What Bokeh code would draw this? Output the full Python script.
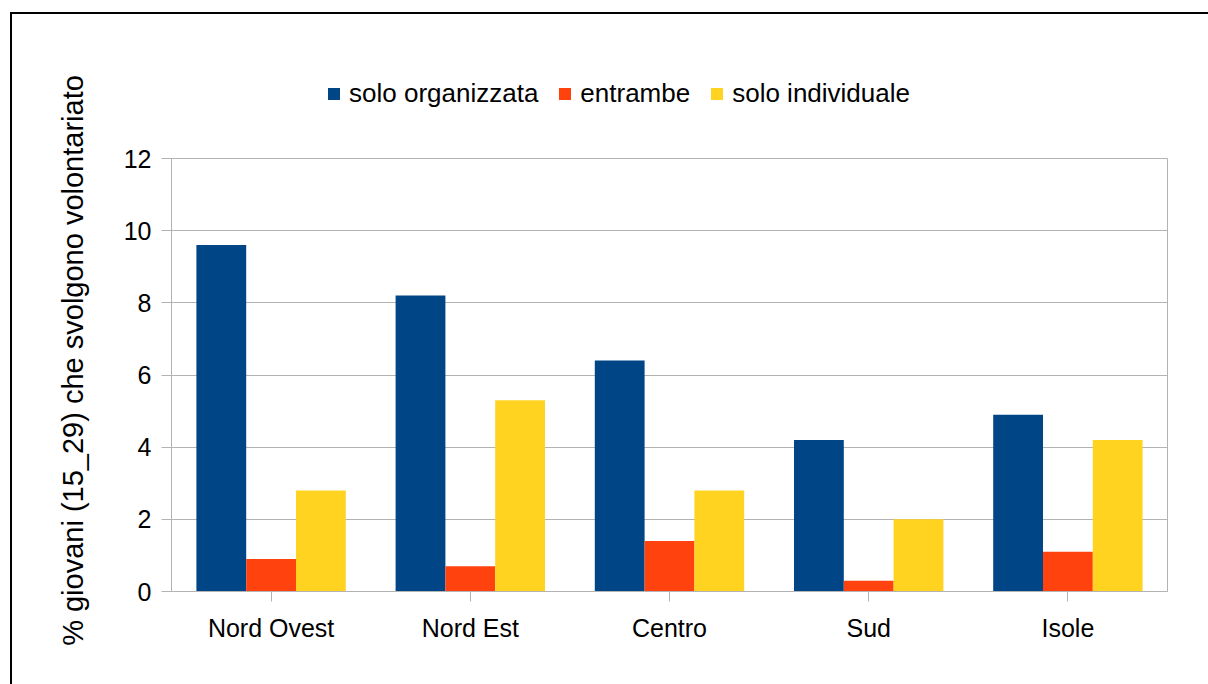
import math
from bokeh.plotting import figure
from bokeh.models import ColumnDataSource, FactorRange, Legend, LegendItem, Label
from bokeh.layouts import column, row
from bokeh.transform import dodge
from bokeh.embed import file_html
from bokeh.resources import INLINE

regions = ["Nord Ovest", "Nord Est", "Centro", "Sud", "Isole"]
solo_organizzata = [9.6, 8.2, 6.4, 4.2, 4.9]
entrambe = [0.9, 0.7, 1.4, 0.3, 1.1]
solo_individuale = [2.8, 5.3, 2.8, 2.0, 4.2]
series_names = ["solo organizzata", "entrambe", "solo individuale"]
colors = ["#004586", "#ff420e", "#ffd320"]
y_ticks = [0, 2, 4, 6, 8, 10, 12]
y_label = "% giovani (15_29) che svolgono volontariato"

FONT = "Liberation Sans"
FS = "25px"
TITLE_W = 100
TOTAL_W = 1196
TOTAL_H = 670
LEG_H = 129

src = ColumnDataSource(dict(x=regions, a=solo_organizzata, b=entrambe, c=solo_individuale))

# ---- left strip with the rotated y-axis title ----
side = figure(width=TITLE_W, height=TOTAL_H, x_range=(0, TITLE_W), y_range=(0, TOTAL_H),
              output_backend="svg", toolbar_location=None, min_border=0)
side.axis.visible = False
side.grid.visible = False
side.outline_line_color = None
side.background_fill_color = "white"
side.border_fill_color = "white"
side.add_layout(Label(x=60, y=324, text=y_label, angle=math.pi / 2,
                      text_align="center", text_baseline="middle",
                      text_font=FONT, text_font_size="29px", text_color="#000000"))

# ---- legend strip (top area) ----
top = figure(width=TOTAL_W - TITLE_W, height=LEG_H, x_range=(0, 1), y_range=(0, 1),
             output_backend="svg", toolbar_location=None, min_border=0)
top.axis.visible = False
top.grid.visible = False
top.outline_line_color = None
top.background_fill_color = "white"
top.border_fill_color = "white"
leg_renderers = [top.vbar(x=[0], top=[0], width=0.0, fill_color=c, line_color=None) for c in colors]
legend = Legend(items=[LegendItem(label=n, renderers=[r]) for n, r in zip(series_names, leg_renderers)],
                orientation="horizontal", location=(155, 34),
                label_text_font=FONT, label_text_font_size="26px", label_text_color="#000000",
                glyph_width=15, glyph_height=15, label_standoff=8, spacing=19,
                padding=0, margin=0, border_line_color=None, background_fill_alpha=0)
top.add_layout(legend, "center")

# ---- main chart ----
p = figure(x_range=FactorRange(*regions, range_padding=0), y_range=(0, 12),
           width=TOTAL_W - TITLE_W, height=TOTAL_H - LEG_H, output_backend="svg", toolbar_location=None,
           min_border_left=59, min_border_right=41, min_border_top=15, min_border_bottom=93)

bw = 0.25
for i, (col, c) in enumerate(zip(["a", "b", "c"], colors)):
    p.vbar(x=dodge("x", (i - 1) * bw, range=p.x_range), top=col, width=bw,
           source=src, fill_color=c, line_color=None)

p.background_fill_color = "white"
p.border_fill_color = "white"
p.outline_line_color = "#b3b3b3"
p.outline_line_width = 1

p.xgrid.grid_line_color = None
p.ygrid.grid_line_color = "#b3b3b3"
p.ygrid.ticker = y_ticks
p.yaxis.ticker = y_ticks

for ax in (p.xaxis[0], p.yaxis[0]):
    ax.axis_line_color = "#b3b3b3"
    ax.major_tick_line_color = "#b3b3b3"
    ax.minor_tick_line_color = None
    ax.major_tick_in = 0
    ax.major_tick_out = 10
    ax.major_label_text_font = FONT
    ax.major_label_text_font_size = FS
    ax.major_label_text_color = "#000000"

p.yaxis.major_label_standoff = 10
p.xaxis.major_label_standoff = 12
p.xaxis.group_text_font_size = "0px"

lay = row(side, column(top, p, spacing=0), spacing=0)
lay.styles = {"border-top": "2px solid #000", "border-left": "2px solid #000",
              "border-right": "none", "border-bottom": "none",
              "margin-top": "12px", "margin-left": "10px"}

open("out.html", "w").write(file_html(lay, INLINE))
